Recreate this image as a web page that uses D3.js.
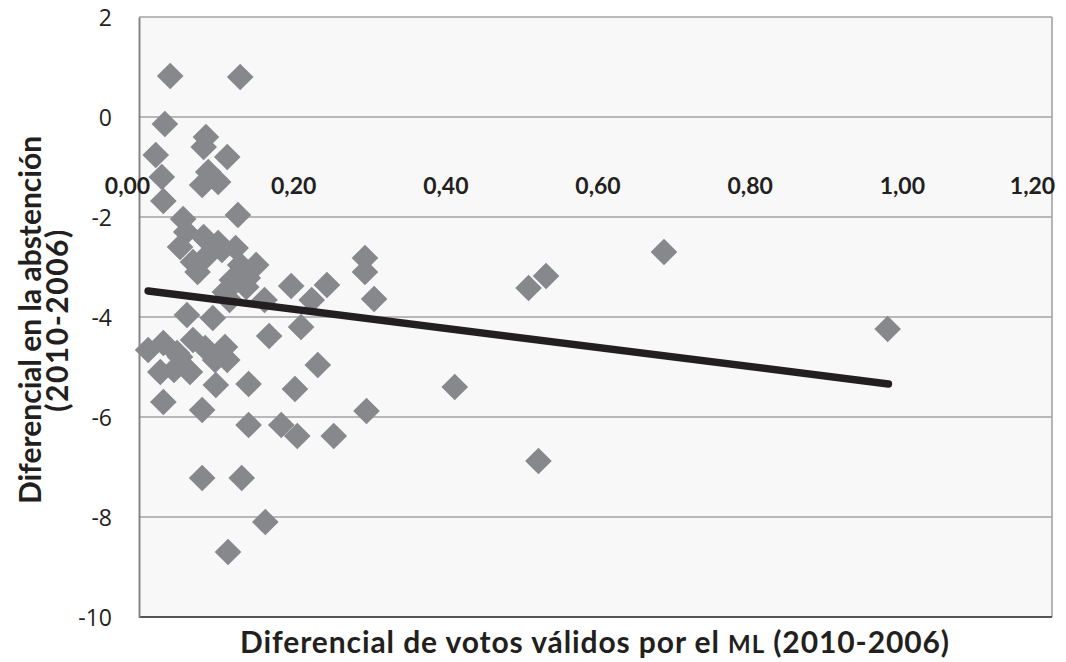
<!DOCTYPE html>
<html>
<head>
<meta charset="utf-8">
<script src="https://cdn.jsdelivr.net/npm/d3@7"></script>
<style>
  html, body { margin: 0; padding: 0; background: #ffffff; }
  svg { display: block; }
</style>
</head>
<body>
<svg id="chart" width="1066" height="662"></svg>
<script>
// ---- data ----
const xValues = [0.041,0.133,0.034,0.088,0.085,0.022,0.116,0.030,0.091,0.083,0.104,0.032,0.130,0.058,0.062,0.054,0.071,0.077,0.085,0.104,0.109,0.127,0.133,0.154,0.143,0.122,0.113,0.141,0.200,0.165,0.063,0.097,0.247,0.227,0.297,0.297,0.309,0.213,0.171,0.235,0.144,0.205,0.299,0.144,0.187,0.208,0.256,0.690,0.535,0.512,0.525,0.415,0.984,0.032,0.083,0.101,0.083,0.135,0.166,0.117,0.012,0.032,0.028,0.046,0.067,0.050,0.087,0.113,0.116,0.100,0.071,0.054,0.089,0.119];
const yValues = [0.82,0.80,-0.14,-0.40,-0.60,-0.76,-0.80,-1.20,-1.10,-1.36,-1.30,-1.68,-1.96,-2.04,-2.30,-2.60,-2.90,-3.10,-2.40,-2.52,-2.66,-2.62,-2.96,-2.96,-3.22,-3.26,-3.50,-3.40,-3.38,-3.66,-3.96,-4.02,-3.36,-3.66,-2.82,-3.10,-3.64,-4.20,-4.38,-4.96,-5.34,-5.44,-5.88,-6.16,-6.16,-6.38,-6.38,-2.70,-3.18,-3.42,-6.88,-5.40,-4.24,-5.70,-5.86,-5.36,-7.22,-7.22,-8.10,-8.70,-4.66,-4.52,-5.10,-5.06,-5.10,-4.72,-4.62,-4.60,-4.86,-4.86,-4.46,-4.80,-2.78,-3.66];
const xTicks = [0, 0.2, 0.4, 0.6, 0.8, 1.0, 1.2];
const yTicks = [2, 0, -2, -4, -6, -8, -10];
const trendIntercept = -3.457;
const trendSlope = -1.91;
const trendRange = [0.012, 0.985];

// ---- layout ----
const svg = d3.select("#chart");
const mLeft = 139, mRight = 1052, mTop = 17, mBottom = 617;
const x = d3.scaleLinear().domain([0, 1.2]).range([mLeft, mRight]);
const y = d3.scaleLinear().domain([-10, 2]).range([mBottom, mTop]);
const fmt = v => d3.format(".2f")(v).replace(".", ",");
const font = "Lato, 'Open Sans', sans-serif";

// plot background
svg.append("rect").attr("x", mLeft).attr("y", mTop)
  .attr("width", mRight - mLeft).attr("height", mBottom - mTop)
  .attr("fill", "#f8f8f8");

// gridlines
const grid = svg.append("g");
grid.selectAll("line").data(yTicks.filter(v => v !== -10)).join("line")
  .attr("x1", mLeft).attr("x2", mRight)
  .attr("y1", d => y(d)).attr("y2", d => y(d))
  .attr("stroke", "#a3a3a3").attr("stroke-width", 1.6);
// right border
svg.append("line").attr("x1", mRight).attr("x2", mRight).attr("y1", mTop).attr("y2", mBottom)
  .attr("stroke", "#a3a3a3").attr("stroke-width", 1.6);
// bottom border
svg.append("line").attr("x1", mLeft).attr("x2", mRight).attr("y1", mBottom).attr("y2", mBottom)
  .attr("stroke", "#555555").attr("stroke-width", 2);

// y axis
const yAxis = svg.append("g").attr("transform", `translate(${mLeft},0)`)
  .call(d3.axisLeft(y).tickValues(yTicks).tickSize(0).tickPadding(27).tickFormat(d => d));
yAxis.select(".domain").attr("stroke", "#858585").attr("stroke-width", 2);
yAxis.selectAll("text").attr("font-family", "'Open Sans', sans-serif").attr("font-size", 23)
  .attr("fill", "#231f20").attr("dy", "0.35em");

// x axis (labels float inside plot below the zero line)
const xAxis = svg.append("g").attr("transform", `translate(0,${y(0)})`)
  .call(d3.axisBottom(x).tickValues(xTicks).tickSize(0).tickPadding(0).tickFormat(fmt));
xAxis.select(".domain").remove();
xAxis.selectAll("text").attr("font-family", font).attr("font-weight", "bold")
  .attr("font-size", 23).attr("fill", "#231f20").attr("dy", "0").attr("y", 77)
  .attr("dx", (d, i) => i === 0 ? -12 : (i === xTicks.length - 1 ? -20 : 2));

// points
const pts = xValues.map((v, i) => ({ x: v, y: yValues[i] }));
const diamond = d3.symbol().type(d3.symbolSquare).size(355);
svg.append("g").selectAll("path").data(pts).join("path")
  .attr("d", diamond)
  .attr("transform", d => `translate(${x(d.x)},${y(d.y)}) rotate(45)`)
  .attr("fill", "#87888c");

// trend line
const trend = trendRange.map(v => ({ x: v, y: trendIntercept + trendSlope * v }));
svg.append("path").datum(trend)
  .attr("d", d3.line().x(d => x(d.x)).y(d => y(d.y)))
  .attr("stroke", "#231f20").attr("stroke-width", 7.5)
  .attr("stroke-linecap", "round").attr("fill", "none");

// x title
const xt = svg.append("text").attr("x", 595).attr("y", 653)
  .attr("text-anchor", "middle").attr("font-family", font).attr("font-weight", "bold")
  .attr("font-size", 30).attr("letter-spacing", 0.9).attr("fill", "#231f20");
xt.append("tspan").text("Diferencial de votos válidos por el ");
xt.append("tspan").attr("font-size", 24).text("ML");
xt.append("tspan").text(" (2010-2006)");

// y title
const yt = svg.append("g").attr("transform", "translate(0,320) rotate(-90)");
yt.append("text").attr("x", 0).attr("y", 41).attr("text-anchor", "middle")
  .attr("font-family", font).attr("font-weight", "bold").attr("font-size", 30)
  .attr("fill", "#231f20").text("Diferencial en la abstención");
yt.append("text").attr("x", 0).attr("y", 68).attr("text-anchor", "middle")
  .attr("font-family", font).attr("font-weight", "bold").attr("font-size", 30)
  .attr("letter-spacing", 1.5).attr("fill", "#231f20").text("(2010-2006)");
</script>
</body>
</html>
